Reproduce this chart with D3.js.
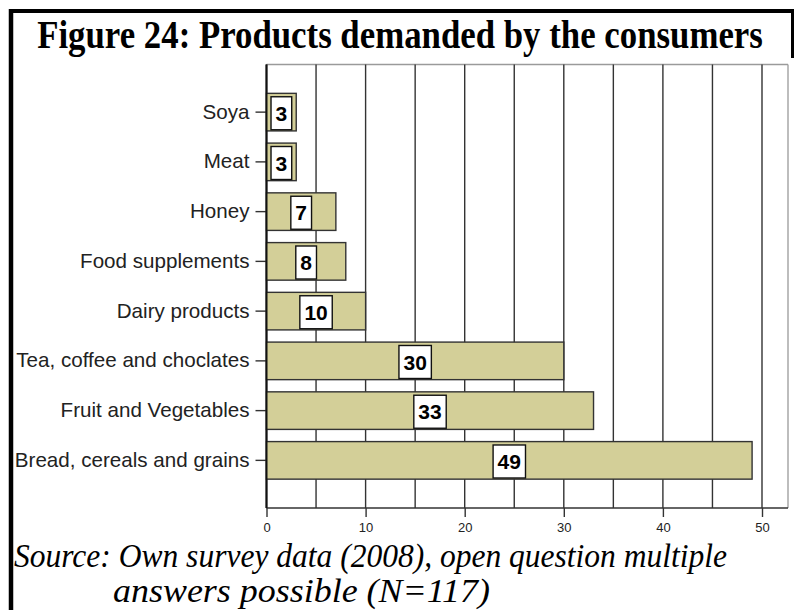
<!DOCTYPE html>
<html>
<head>
<meta charset="utf-8">
<script src="https://cdn.jsdelivr.net/npm/d3@7"></script>
<style>
  html, body { margin: 0; padding: 0; background: #fff; }
  svg { display: block; }
</style>
</head>
<body>
<svg id="chart" width="794" height="610"></svg>
<script>
const titleText = "Figure 24: Products demanded by the consumers";
const categories = ["Soya", "Meat", "Honey", "Food supplements", "Dairy products",
  "Tea, coffee and choclates", "Fruit and Vegetables", "Bread, cereals and grains"];
const values = [3, 3, 7, 8, 10, 30, 33, 49];
const gridValues = [0, 5, 10, 15, 20, 25, 30, 35, 40, 45, 50];
const tickValues = [0, 10, 20, 30, 40, 50];
const sourceLines = ["Source: Own survey data (2008), open question multiple",
  "answers possible (N=117)"];

const svg = d3.select("#chart");

// outer figure border (left + top + right of title box)
svg.append("rect").attr("x", 0).attr("y", 0).attr("width", 794).attr("height", 610).attr("fill", "#fff");
svg.append("line").attr("x1", 11).attr("x2", 11).attr("y1", 9).attr("y2", 610)
  .attr("stroke", "#000").attr("stroke-width", 4.5);
svg.append("line").attr("x1", 9).attr("x2", 794).attr("y1", 11).attr("y2", 11)
  .attr("stroke", "#000").attr("stroke-width", 4);
svg.append("line").attr("x1", 792.5).attr("x2", 792.5).attr("y1", 9).attr("y2", 58)
  .attr("stroke", "#000").attr("stroke-width", 3);

// title (tall, narrow serif as in the reference)
svg.append("text").attr("transform", "translate(400,48) scale(1,1.15)")
  .attr("text-anchor", "middle")
  .attr("font-family", "'Liberation Serif','Times New Roman',serif")
  .attr("font-weight", "bold").attr("font-size", 34.8)
  .attr("fill", "#000").text(titleText);

// scales
const plotTop = 64.5, plotBottom = 508, plotLeft = 266.5, plotRight = 788;
const x = d3.scaleLinear().domain([0, 50]).range([plotLeft, 762]);
const y = d3.scaleBand().domain(categories).range([plotTop, plotBottom])
  .paddingInner(0.245).paddingOuter(0.58);

// frame
svg.append("line").attr("x1", plotLeft).attr("x2", plotRight).attr("y1", plotTop).attr("y2", plotTop)
  .attr("stroke", "#9a9a9a").attr("stroke-width", 1.3);
svg.append("line").attr("x1", plotRight).attr("x2", plotRight).attr("y1", plotTop).attr("y2", plotBottom)
  .attr("stroke", "#9a9a9a").attr("stroke-width", 1.3);

// gridlines
svg.append("g").selectAll("line").data(gridValues).join("line")
  .attr("x1", d => x(d)).attr("x2", d => x(d))
  .attr("y1", plotTop).attr("y2", plotBottom)
  .attr("stroke", d => d === 0 ? "#111" : "#333").attr("stroke-width", d => d === 0 ? 1.8 : 1.4);

// bottom line
svg.append("line").attr("x1", plotLeft).attr("x2", plotRight).attr("y1", plotBottom).attr("y2", plotBottom)
  .attr("stroke", "#333").attr("stroke-width", 1.4);

// x axis
const xAxis = d3.axisBottom(x).tickValues(tickValues).tickSize(9).tickPadding(6).tickFormat(d3.format("d"));
const gx = svg.append("g").attr("transform", `translate(0,${plotBottom})`).call(xAxis);
gx.select(".domain").remove();
gx.selectAll(".tick line").attr("stroke", "#333").attr("stroke-width", 1.4);
gx.selectAll(".tick text").attr("font-family", "'Liberation Sans Narrow','Liberation Sans',Arial,sans-serif")
  .attr("font-size", 13).attr("fill", "#222");

// y axis
const yAxis = d3.axisLeft(y).tickSize(11).tickPadding(6);
const gy = svg.append("g").attr("transform", `translate(${plotLeft},0)`).call(yAxis);
gy.select(".domain").remove();
gy.selectAll(".tick line").attr("stroke", "#333").attr("stroke-width", 1.4);
gy.selectAll(".tick text").attr("font-family", "'Liberation Sans',Arial,sans-serif")
  .attr("font-size", 20.6).attr("fill", "#222");

// bars
const data = categories.map((c, i) => ({ c, v: values[i] }));
svg.append("g").selectAll("rect").data(data).join("rect")
  .attr("x", x(0)).attr("y", d => y(d.c))
  .attr("width", d => x(d.v) - x(0)).attr("height", y.bandwidth())
  .attr("fill", "#d3cf98").attr("stroke", "#333").attr("stroke-width", 1.4);

// value labels
const lab = svg.append("g").selectAll("g").data(data).join("g")
  .attr("transform", d => `translate(${x(d.v / 2)},${y(d.c) + 3.4 + 16.5})`);
lab.append("rect")
  .attr("x", d => -(String(d.v).length * 11.7 + 9) / 2)
  .attr("y", -16.5)
  .attr("width", d => String(d.v).length * 11.7 + 9)
  .attr("height", 33)
  .attr("fill", "#fff").attr("stroke", "#111").attr("stroke-width", 1.4);
lab.append("text").attr("text-anchor", "middle").attr("dy", "0.36em")
  .attr("font-family", "'Liberation Sans',Arial,sans-serif").attr("font-weight", "bold")
  .attr("font-size", 21).attr("fill", "#000").text(d => d.v);

// left axis line on top
svg.append("line").attr("x1", plotLeft).attr("x2", plotLeft).attr("y1", plotTop).attr("y2", plotBottom)
  .attr("stroke", "#111").attr("stroke-width", 1.8);

// source
const src = svg.append("g").attr("font-family", "'Liberation Serif','Times New Roman',serif")
  .attr("font-style", "italic").attr("font-size", 33).attr("fill", "#000");
src.append("text").attr("x", 14).attr("y", 567)
  .attr("textLength", 713).attr("lengthAdjust", "spacingAndGlyphs").text(sourceLines[0]);
src.append("text").attr("x", 113).attr("y", 602)
  .attr("textLength", 377).attr("lengthAdjust", "spacingAndGlyphs").text(sourceLines[1]);
</script>
</body>
</html>
